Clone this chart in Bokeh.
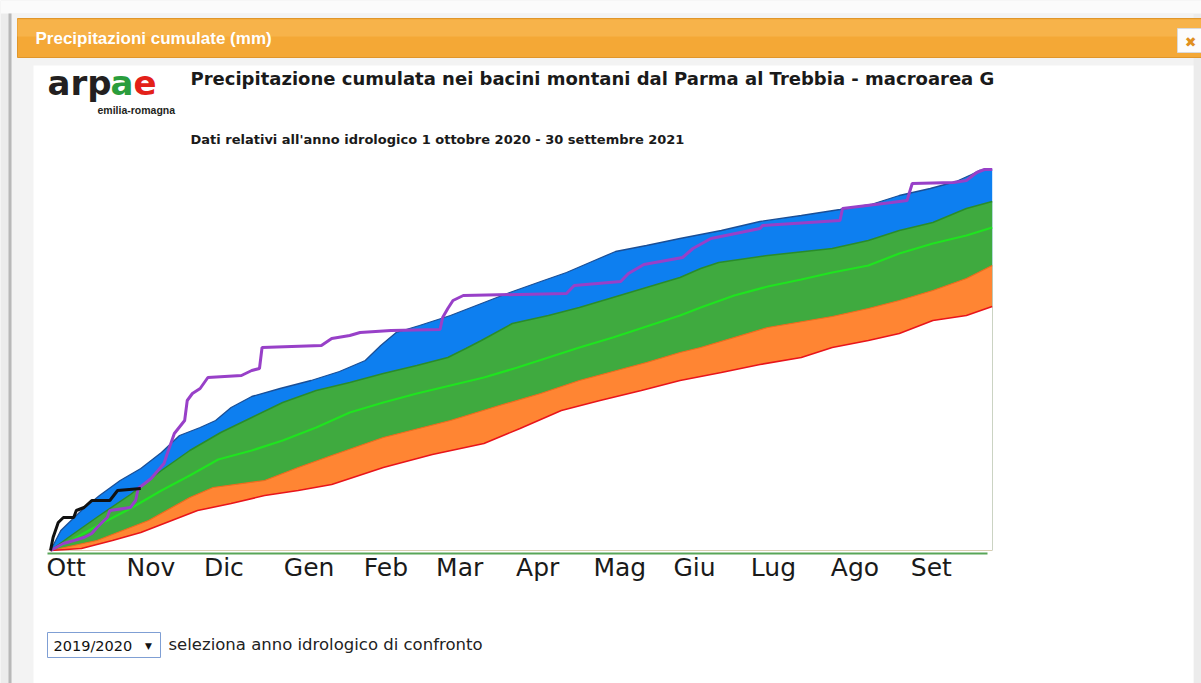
from bokeh.plotting import figure
from bokeh.models import Range1d, Label, BoxAnnotation
from bokeh.core.properties import value
from bokeh.embed import file_html
from bokeh.resources import INLINE

# ---------------- data (day of hydrological year from 1 Oct, cumulated mm) ----------------
month_days = [0, 31, 61, 92, 123, 151, 182, 212, 243, 273, 304, 335]
month_names = ["Ott", "Nov", "Dic", "Gen", "Feb", "Mar", "Apr", "Mag", "Giu", "Lug", "Ago", "Set"]

max_days = [0, 4, 12, 19, 27, 35, 43, 50, 58, 64, 70, 78, 89, 101, 112, 122, 128, 134, 143, 155,
            167, 178, 190, 200, 209, 219, 231, 244, 260, 275, 291, 306, 318, 329, 341, 351, 357, 360, 365]
max_mm = [0, 100, 200, 275, 350, 410, 490, 575, 615, 650, 715, 770, 810, 850, 895, 950, 1025, 1090, 1125, 1175,
          1235, 1290, 1345, 1390, 1440, 1495, 1525, 1560, 1600, 1645, 1675, 1705, 1730, 1775, 1810, 1845, 1880, 1900, 1905]

p75_days = [0, 8, 19, 31, 43, 54, 66, 78, 90, 103, 116, 129, 142, 154, 161, 167, 179, 193, 205, 218,
            231, 244, 252, 259, 278, 303, 317, 329, 342, 355, 365]
p75_mm = [0, 75, 175, 280, 400, 500, 590, 665, 740, 800, 840, 885, 925, 965, 1010, 1050, 1135, 1175, 1215, 1265,
          1315, 1365, 1410, 1440, 1475, 1510, 1550, 1600, 1640, 1710, 1745]

med_days = [0, 8, 19, 31, 43, 54, 65, 78, 90, 103, 116, 129, 142, 155, 168, 181, 193, 205, 218, 231,
            244, 252, 265, 278, 291, 303, 317, 329, 342, 355, 365]
med_mm = [0, 50, 130, 210, 300, 375, 455, 500, 550, 615, 690, 740, 785, 825, 865, 915, 965, 1015, 1065, 1120,
          1175, 1215, 1275, 1320, 1355, 1390, 1425, 1485, 1535, 1575, 1615]

p25_days = [0, 18, 38, 54, 63, 83, 96, 109, 129, 155, 174, 190, 205, 231, 244, 252, 278, 303, 317, 329, 342, 355, 365]
p25_mm = [0, 50, 150, 265, 315, 350, 415, 475, 565, 650, 725, 785, 850, 940, 990, 1015, 1115, 1170, 1210, 1250,
          1300, 1360, 1425]

min_days = [0, 12, 24, 35, 44, 57, 70, 83, 96, 109, 129, 148, 168, 182, 198, 213, 229, 244, 260, 275, 291,
            303, 317, 329, 342, 355, 365]
min_mm = [0, 10, 50, 90, 135, 200, 235, 275, 300, 330, 415, 480, 535, 610, 700, 750, 800, 850, 890, 930, 965,
          1015, 1050, 1085, 1150, 1175, 1220]

prev_days = [0, 5, 13, 16, 18, 22, 23, 31, 33, 34, 39, 44, 45, 48, 52, 53, 55, 58, 61, 74, 78, 81, 82, 105,
             109, 116, 120, 132, 151, 152, 154, 156, 160, 200, 203, 221, 224, 230, 245, 249, 256, 275, 276,
             306, 307, 326, 332, 334, 350, 355, 359, 362, 365]
prev_mm = [0, 35, 65, 85, 115, 165, 200, 215, 250, 310, 360, 435, 475, 585, 650, 750, 785, 810, 865, 875, 900,
           910, 1015, 1025, 1060, 1075, 1090, 1100, 1105, 1165, 1210, 1250, 1275, 1285, 1325, 1345, 1385, 1430,
           1465, 1510, 1560, 1610, 1625, 1650, 1710, 1740, 1750, 1835, 1840, 1850, 1890, 1905, 1905]

cur_days = [0, 1, 3, 5, 9, 10, 13, 16, 23, 26, 35]
cur_mm = [0, 65, 140, 165, 165, 200, 215, 250, 250, 300, 310]

# ---------------- page geometry helpers (window px -> data) ----------------
W, H = 1201, 683


def X(px):
    return (px - 50) / 2.58


def Y(py):
    return (550 - py) * 5.0


p = figure(width=W, height=H,
           x_range=Range1d(X(0), X(W)), y_range=Range1d(Y(H), Y(0)),
           output_backend="svg", toolbar_location=None,
           x_axis_location=None, y_axis_location=None,
           min_border_left=0, min_border_right=0, min_border_top=0, min_border_bottom=0,
           background_fill_color="#ececec", border_fill_color="#ececec", outline_line_color=None)
p.xgrid.visible = False
p.ygrid.visible = False


def box(l, r, t, b, color, line=None, level="underlay"):
    bx = BoxAnnotation(left=X(l), right=X(r), top=Y(t), bottom=Y(b), fill_color=color, fill_alpha=1.0,
                       line_color=line, line_alpha=1.0, level=level)
    p.add_layout(bx)


box(0, W, 0, 13, "#fbfbfb")
box(11, 1193, 13, H, "#f3f3f3")
box(8, 11, 13, H, "#b8b8b8")
box(33, 1193, 65, H, "#ffffff")
box(17, W, 18, 57, "#f4a836", line="#e0962a")
box(17, W, 19, 36, "#f7b34a")
box(1177, W, 28, 52, "#fcfcfc", line="#d9d9d9")
box(47, 160, 632, 657, "#ffffff", line="#7f9fd4")
box(47, 987, 549, 550, "#e6dfcc")
box(47, 987, 552, 554, "#58a558")

# ---------------- chart ----------------
p.varea(x=max_days, y1=0, y2=max_mm, fill_color="#0d7ff0")
p.varea(x=p75_days, y1=0, y2=p75_mm, fill_color="#3faa3f")
p.varea(x=p25_days, y1=0, y2=p25_mm, fill_color="#ff8533")
p.varea(x=min_days, y1=0, y2=min_mm, fill_color="#ffffff")

p.line(max_days, max_mm, line_color="#1b4f96", line_width=1.3)
p.line(p75_days, p75_mm, line_color="#2a8c2a", line_width=1.5)
p.line(p25_days, p25_mm, line_color="#f06a1e", line_width=1.2)
p.line(med_days, med_mm, line_color="#1fe41f", line_width=2.2)
p.line(min_days, min_mm, line_color="#e8141b", line_width=1.6)
p.line(prev_days, prev_mm, line_color="#9840c8", line_width=3)
p.line(cur_days, cur_mm, line_color="#111111", line_width=3)

# month tick labels (left-aligned at the first day of each month)
p.text(x=month_days, y=Y(567), text=month_names, text_align="left", text_baseline="alphabetic",
       text_font=value("DejaVu Sans"), text_font_size="25px", text_color="#1a1a1a", x_offset=-4)


def label(px, py, text, size, color="#1a1a1a", font="DejaVu Sans", style="normal", align="left",
          baseline="alphabetic"):
    p.add_layout(Label(x=X(px), y=Y(py), text=text, text_font=font, text_font_size=size,
                       text_font_style=style, text_color=color, text_align=align, text_baseline=baseline))


label(35, 38, "Precipitazioni cumulate (mm)", "17px", color="#ffffff", font="Liberation Sans", style="bold")
label(1190, 41, "\u2716", "14px", color="#e0901f", align="center", baseline="middle")

label(47, 82, "arp", "34px", color="#231f20", style="bold")
label(110, 82, "a", "34px", color="#2a9d3c", style="bold")
label(133, 82, "e", "34px", color="#e32119", style="bold")
label(97, 109, "emilia-romagna", "10.5px", color="#231f20", font="Liberation Sans", style="bold")

label(190, 78, "Precipitazione cumulata nei bacini montani dal Parma al Trebbia - macroarea G", "18px",
      style="bold")
label(190, 139, "Dati relativi all'anno idrologico 1 ottobre 2020 - 30 settembre 2021", "13px", style="bold")

label(53, 645, "2019/2020", "14.5px", color="#111111")
label(148, 645, "\u25bc", "9px", color="#111111", align="center", baseline="middle")
label(168, 644, "seleziona anno idrologico di confronto", "16.5px", color="#222222")

open("out.html", "w").write(file_html(p, INLINE))
